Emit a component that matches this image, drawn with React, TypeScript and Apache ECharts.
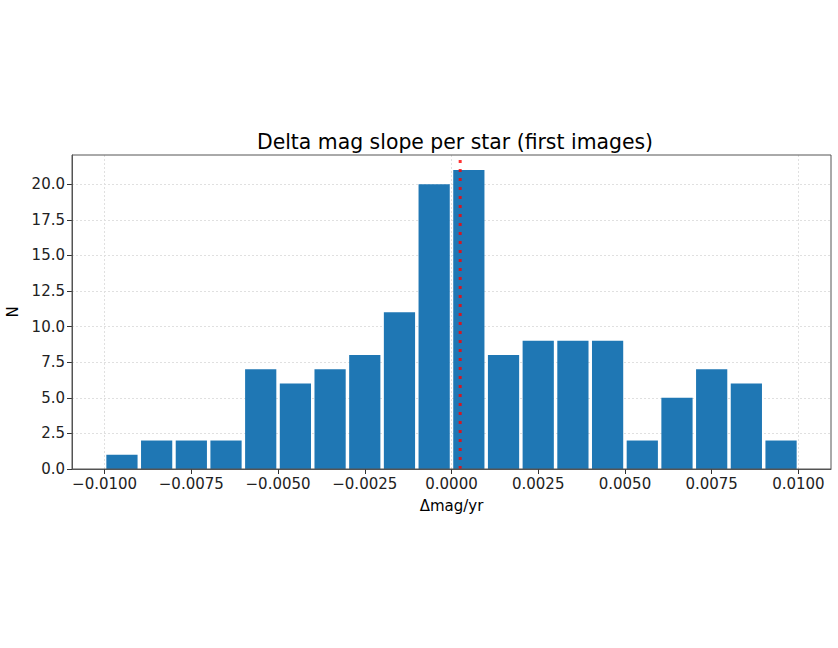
import React, { useEffect, useRef } from "react";
import * as echarts from "echarts";

const binEdges = [
  -0.01, -0.009, -0.008, -0.007, -0.006, -0.005, -0.004, -0.003, -0.002, -0.001, 0,
  0.001, 0.002, 0.003, 0.004, 0.005, 0.006, 0.007, 0.008, 0.009, 0.01,
];
const counts = [1, 2, 2, 2, 7, 6, 7, 8, 11, 20, 21, 8, 9, 9, 9, 2, 5, 7, 6, 2];
const xTicks = [-0.01, -0.0075, -0.005, -0.0025, 0, 0.0025, 0.005, 0.0075, 0.01];
const yTicks = [0, 2.5, 5, 7.5, 10, 12.5, 15, 17.5, 20];
const meanLine = 0.00025;
const titleText = "Delta mag slope per star (first images)";
const xLabel = "Δmag/yr";
const yLabel = "N";

const FONT = "DejaVu Sans";

export default function App() {
  const ref = useRef<HTMLDivElement>(null);
  useEffect(() => {
    document.body.style.margin = "0";
    const chart = echarts.init(ref.current!, null, { renderer: "svg" });
    const xMin = -0.01094;
    const xMax = 0.01094;
    const yMax = 22.05;
    const histData = counts.map((c, i) => [binEdges[i], binEdges[i + 1], c]);
    const fmtX = (v: number) => {
      const s = Math.abs(v).toFixed(4);
      return (v < -1e-12 ? "\u2212" : "") + s;
    };
    chart.setOption({
      animation: false,
      title: {
        text: titleText,
        left: 450,
        top: 127,
        textAlign: "center",
        textStyle: { fontFamily: FONT, fontSize: 20.4, fontWeight: "normal", color: "#000" },
      },
      grid: {
        left: 72,
        right: 7,
        top: 155,
        bottom: 179,
        containLabel: false,
        outerBoundsMode: "none",
        show: true,
        borderColor: "#555",
        borderWidth: 1,
        backgroundColor: "transparent",
        z: 10,
      },
      xAxis: {
        type: "value",
        min: xMin,
        max: xMax,
        name: xLabel,
        nameLocation: "middle",
        nameGap: 29,
        nameTextStyle: { fontFamily: FONT, fontSize: 15, color: "#000" },
        axisLine: { show: true, onZero: false, lineStyle: { color: "#555", width: 1 } },
        axisTick: { show: true, length: 5, lineStyle: { color: "#333" }, customValues: xTicks },
        axisLabel: {
          customValues: xTicks,
          formatter: (v: number) => fmtX(v),
          fontFamily: FONT,
          fontSize: 15,
          color: "#222",
          margin: 7,
        },
        splitLine: { show: false },
      },
      yAxis: {
        type: "value",
        min: 0,
        max: yMax,
        name: yLabel,
        nameLocation: "middle",
        nameGap: 52,
        nameTextStyle: { fontFamily: FONT, fontSize: 15, color: "#000" },
        axisLine: { show: true, onZero: false, lineStyle: { color: "#555", width: 1 } },
        axisTick: { show: true, length: 5, lineStyle: { color: "#333" }, customValues: yTicks },
        axisLabel: {
          customValues: yTicks,
          formatter: (v: number) => v.toFixed(1),
          fontFamily: FONT,
          fontSize: 15,
          color: "#222",
          margin: 7,
        },
        splitLine: { show: false },
      },
      series: [
        {
          type: "line",
          silent: true,
          data: [],
          markLine: {
            silent: true,
            z: 0,
            symbol: "none",
            label: { show: false },
            lineStyle: { color: "#e0e0e0", type: [2, 2], width: 1 },
            data: [
              ...xTicks.map((v) => ({ xAxis: v })),
              ...yTicks.filter((v) => v > 0).map((v) => ({ yAxis: v })),
            ],
          },
          z: 0,
        },
        {
          type: "custom",
          data: histData,
          encode: { x: [0, 1], y: 2 },
          renderItem: (params: any, api: any) => {
            const lo = api.value(0);
            const hi = api.value(1);
            const c = api.value(2);
            const w = hi - lo;
            const p0 = api.coord([lo + w * 0.05, c]);
            const p1 = api.coord([hi - w * 0.05, 0]);
            return {
              type: "rect",
              shape: { x: p0[0], y: p0[1], width: p1[0] - p0[0], height: p1[1] - p0[1] },
              style: { fill: "#1f77b4" },
            };
          },
          z: 2,
        },
        {
          type: "line",
          data: [
            [meanLine, 0],
            [meanLine, yMax],
          ],
          symbol: "none",
          lineStyle: { color: "#ff0000", width: 3, type: [3, 6], opacity: 0.8 },
          z: 5,
        },
      ],
    });
    return () => chart.dispose();
  }, []);
  return <div ref={ref} style={{ width: 838, height: 648 }} />;
}
